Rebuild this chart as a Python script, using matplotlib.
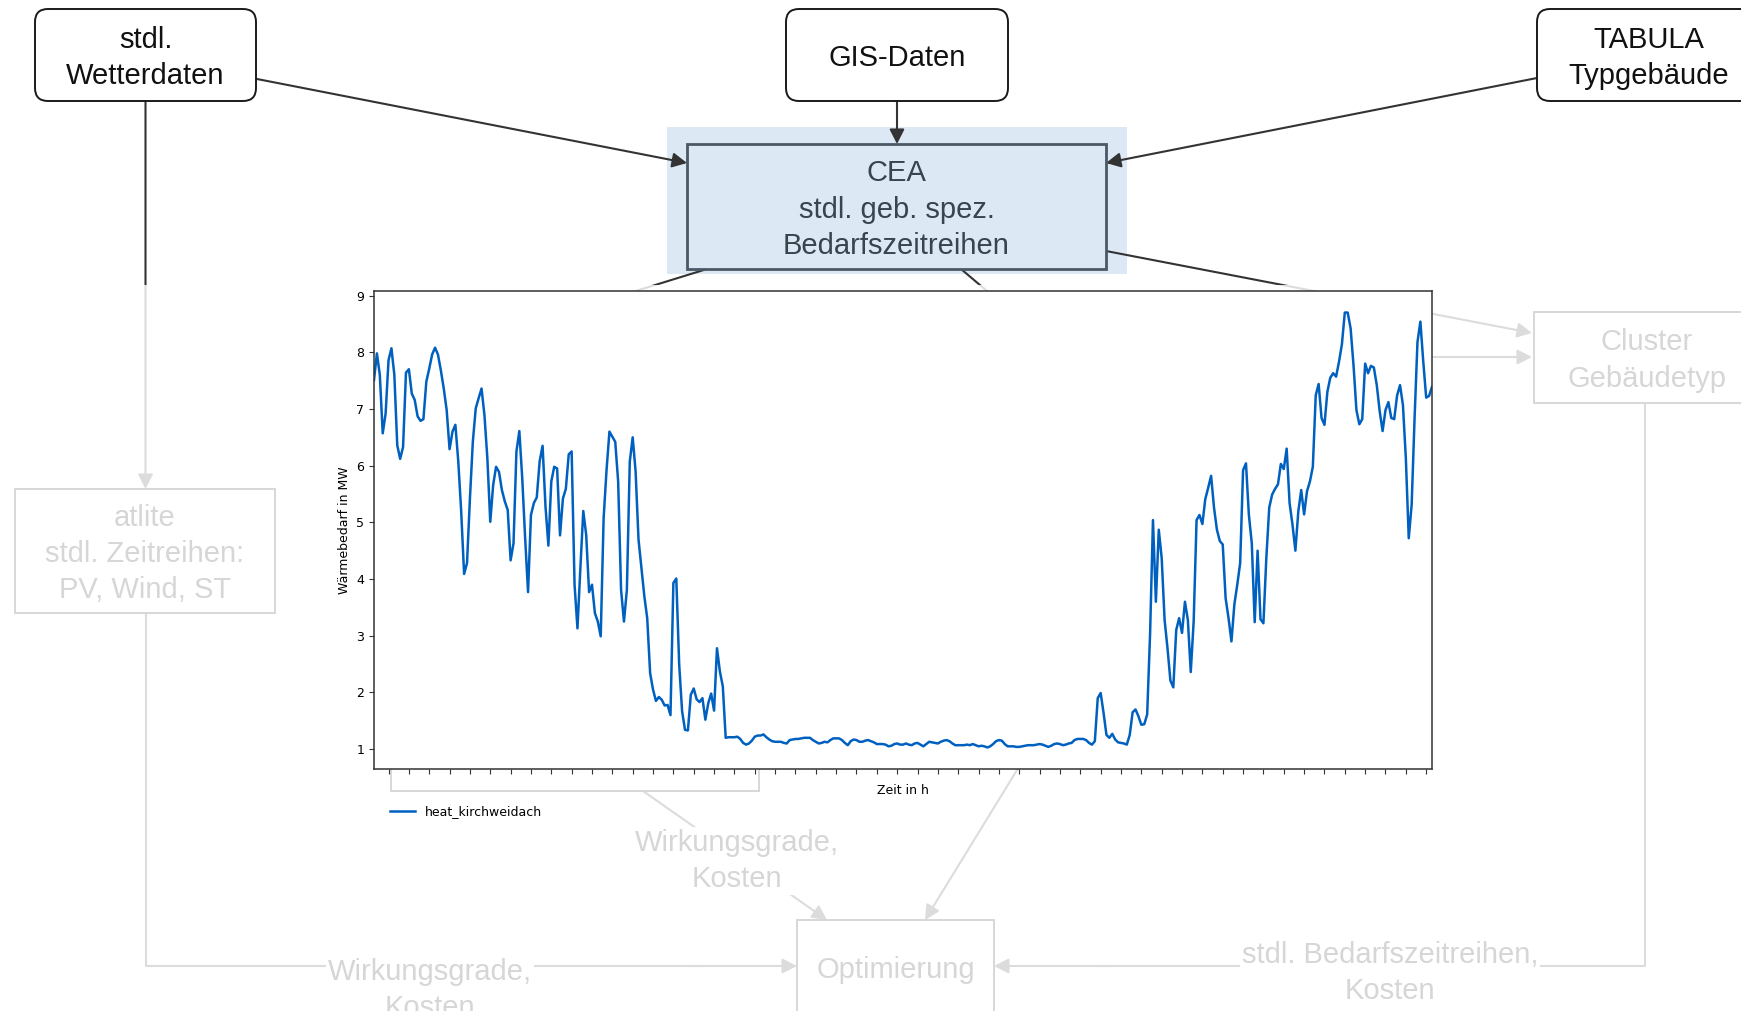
import numpy as np
import matplotlib.pyplot as plt
from matplotlib.patches import FancyBboxPatch, Rectangle, FancyArrowPatch

# daily mean heat demand in MW (one value per day)
heat_kirchweidach = [
    7.51, 7.98, 7.60, 6.57, 6.92, 7.86, 8.07, 7.60, 6.36, 6.12,
    6.33, 7.64, 7.70, 7.27, 7.16, 6.87, 6.79, 6.82, 7.48, 7.71,
    7.96, 8.08, 7.96, 7.68, 7.36, 6.98, 6.29, 6.60, 6.72, 6.07,
    5.19, 4.09, 4.28, 5.42, 6.42, 7.01, 7.19, 7.36, 6.89, 6.13,
    5.01, 5.66, 5.98, 5.89, 5.57, 5.37, 5.22, 4.33, 4.63, 6.25,
    6.61, 5.78, 4.72, 3.77, 5.13, 5.34, 5.44, 6.08, 6.35, 5.28,
    4.59, 5.72, 5.98, 5.95, 4.77, 5.42, 5.59, 6.20, 6.25, 3.90,
    3.13, 4.19, 5.20, 4.78, 3.77, 3.90, 3.40, 3.25, 2.99, 5.07,
    5.92, 6.60, 6.51, 6.42, 5.72, 3.81, 3.25, 3.81, 6.07, 6.50,
    5.90, 4.70, 4.20, 3.70, 3.31, 2.34, 2.05, 1.85, 1.92, 1.87,
    1.77, 1.78, 1.60, 3.93, 4.01, 2.49, 1.67, 1.34, 1.33, 1.96,
    2.07, 1.88, 1.83, 1.90, 1.52, 1.81, 1.98, 1.68, 2.78, 2.37,
    2.11, 1.20, 1.21, 1.21, 1.21, 1.22, 1.18, 1.11, 1.08, 1.10,
    1.15, 1.22, 1.24, 1.24, 1.26, 1.21, 1.17, 1.14, 1.13, 1.13,
    1.13, 1.11, 1.10, 1.16, 1.17, 1.18, 1.18, 1.19, 1.20, 1.20,
    1.20, 1.16, 1.13, 1.10, 1.11, 1.13, 1.12, 1.16, 1.19, 1.19,
    1.19, 1.16, 1.11, 1.07, 1.14, 1.17, 1.16, 1.13, 1.13, 1.15,
    1.16, 1.14, 1.12, 1.09, 1.09, 1.09, 1.08, 1.05, 1.06, 1.09,
    1.10, 1.08, 1.08, 1.10, 1.08, 1.07, 1.10, 1.11, 1.08, 1.05,
    1.09, 1.13, 1.12, 1.11, 1.10, 1.13, 1.15, 1.16, 1.14, 1.10,
    1.07, 1.07, 1.07, 1.07, 1.08, 1.07, 1.09, 1.07, 1.05, 1.06,
    1.05, 1.03, 1.05, 1.09, 1.14, 1.16, 1.15, 1.09, 1.05, 1.05,
    1.05, 1.04, 1.04, 1.05, 1.06, 1.07, 1.07, 1.07, 1.08, 1.09,
    1.08, 1.06, 1.04, 1.06, 1.09, 1.10, 1.09, 1.07, 1.08, 1.10,
    1.11, 1.16, 1.18, 1.18, 1.18, 1.16, 1.11, 1.08, 1.14, 1.90,
    1.99, 1.64, 1.25, 1.20, 1.27, 1.17, 1.12, 1.11, 1.10, 1.08,
    1.25, 1.65, 1.70, 1.58, 1.43, 1.44, 1.61, 3.02, 5.04, 3.60,
    4.87, 4.37, 3.28, 2.78, 2.21, 2.09, 3.10, 3.31, 3.05, 3.60,
    3.28, 2.36, 3.25, 5.04, 5.13, 4.97, 5.41, 5.61, 5.82, 5.26,
    4.87, 4.67, 4.61, 3.66, 3.31, 2.90, 3.55, 3.90, 4.28, 5.92,
    6.04, 5.13, 4.63, 3.24, 4.50, 3.29, 3.22, 4.37, 5.26, 5.49,
    5.59, 5.67, 6.03, 5.94, 6.30, 5.34, 4.96, 4.50, 5.19, 5.57,
    5.14, 5.55, 5.72, 5.98, 7.24, 7.44, 6.84, 6.72, 7.30, 7.55,
    7.63, 7.57, 7.83, 8.14, 8.70, 8.70, 8.42, 7.77, 6.98, 6.73,
    6.82, 7.80, 7.63, 7.76, 7.73, 7.42, 6.96, 6.61, 6.98, 7.12,
    6.84, 6.82, 7.24, 7.42, 7.07, 6.13, 4.72, 5.31, 6.83, 8.18,
    8.54, 7.83, 7.20, 7.23, 7.39,
]
days = np.arange(len(heat_kirchweidach))
week_ticks = np.arange(5, 365, 7)
y_ticks = [1, 2, 3, 4, 5, 6, 7, 8, 9]

W, H = 1741, 1011
FONT = 'Liberation Sans'
LINE = '#333333'
LSP = 1.37
DY = 3  # text sits a little below the geometric centre

fig = plt.figure(figsize=(W / 100, H / 100), dpi=100)

# background axes in pixel coordinates for the flow chart
bg = fig.add_axes([0, 0, 1, 1])
bg.set_xlim(0, W)
bg.set_ylim(H, 0)
bg.axis('off')


def box(x0, y0, x1, y1, text, rounded=True, ec='#1a1a1a', fc='white', lw=1.4, tc='#111111'):
    style = 'round,pad=0,rounding_size=13' if rounded else 'square,pad=0'
    bg.add_patch(FancyBboxPatch((x0, y0), x1 - x0, y1 - y0, boxstyle=style,
                                ec=ec, fc=fc, lw=lw, zorder=4))
    if text:
        return bg.text((x0 + x1) / 2, (y0 + y1) / 2 + DY, text, ha='center', va='center',
                       fontsize=21, family=FONT, color=tc, linespacing=LSP, zorder=5)


def arrow(p0, p1):
    bg.add_patch(FancyArrowPatch(p0, p1, arrowstyle='-|>,head_length=0.55,head_width=0.28',
                                 mutation_scale=16, lw=1.5, color=LINE,
                                 shrinkA=0, shrinkB=0, zorder=3))


def label(x, y, text):
    bg.text(x, y + DY, text, ha='center', va='center', fontsize=21, family=FONT,
            color='#111111', linespacing=LSP, zorder=5,
            bbox=dict(fc='white', ec='none', pad=1))


# top row
box(35, 9, 256, 101, 'stdl.\nWetterdaten')
box(786, 9, 1008, 101, 'GIS-Daten')
box(1537, 9, 1760, 101, 'TABULA\nTypgebäude')

# CEA with highlight
bg.add_patch(Rectangle((667, 127), 460, 147, fc='#dce9f5', ec='none', zorder=2))
box(687, 144, 1106, 269, 'CEA\nstdl. geb. spez.\nBedarfszeitreihen', rounded=False,
    ec='#4b5966', fc='#dce9f5', lw=2, tc='#3a444e')

arrow((257, 79), (687, 163))
arrow((897, 101), (897, 144))
arrow((1537, 78), (1106, 163))
arrow((1106, 251), (1532, 333))
arrow((1420, 357), (1532, 357))
bg.plot([707, 600], [269, 302], color=LINE, lw=1.5, zorder=3)
bg.plot([961, 1000], [269, 302], color=LINE, lw=1.5, zorder=3)

# left branch
arrow((145.5, 101), (145.5, 489))
box(15, 489, 275, 613, 'atlite\nstdl. Zeitreihen:\nPV, Wind, ST', rounded=False)
bg.plot([145.5, 145.5, 700], [613, 966, 966], color=LINE, lw=1.5, zorder=3)
arrow((690, 966), (797, 966))
label(430, 987, 'Wirkungsgrade,\nKosten')

# right branch
box(1534, 312, 1760, 403, 'Cluster\nGebäudetyp', rounded=False)
bg.plot([1645, 1645, 1100], [403, 966, 966], color=LINE, lw=1.5, zorder=3)
arrow((1110, 966), (994, 966))
label(1390, 970, 'stdl. Bedarfszeitreihen,\nKosten')

# box partly hidden behind the chart and its edge to the optimisation
box(391, 690, 759, 791, '', rounded=False)
arrow((643, 791), (827, 920))
label(737, 858, 'Wirkungsgrade,\nKosten')
arrow((1060, 700), (925, 920))

opt = box(797, 920, 994, 1014, 'Optimierung', rounded=False)
opt.set_position((895.5, 967 + DY))

# white veil over the lower part of the flow chart
bg.add_patch(Rectangle((0, 285), W, H - 285, fc='white', ec='none', alpha=0.83, zorder=50))

# the chart
ax = fig.add_axes([374 / W, 1 - 769 / H, 1058 / W, 478 / H])
ax.set_zorder(10)
ax.plot(days, heat_kirchweidach, color='#0060c0', lw=1.8, label='heat_kirchweidach')
ax.set_xlim(0, 364)
ax.set_ylim(0.65, 9.08)
ax.set_xticks(week_ticks)
ax.set_xticklabels([])
ax.set_yticks(y_ticks)
ax.tick_params(labelsize=9, color='#333333')
ax.set_xlabel('Zeit in h', fontsize=9)
ax.set_ylabel('Wärmebedarf in MW', fontsize=9)
for s in ax.spines.values():
    s.set_color('#333333')
    s.set_linewidth(1.1)
ax.legend(loc='upper left', bbox_to_anchor=(379 / W, 1 - 794 / H),
          bbox_transform=fig.transFigure, frameon=False, fontsize=9)

fig.savefig('out.png', dpi=100)
